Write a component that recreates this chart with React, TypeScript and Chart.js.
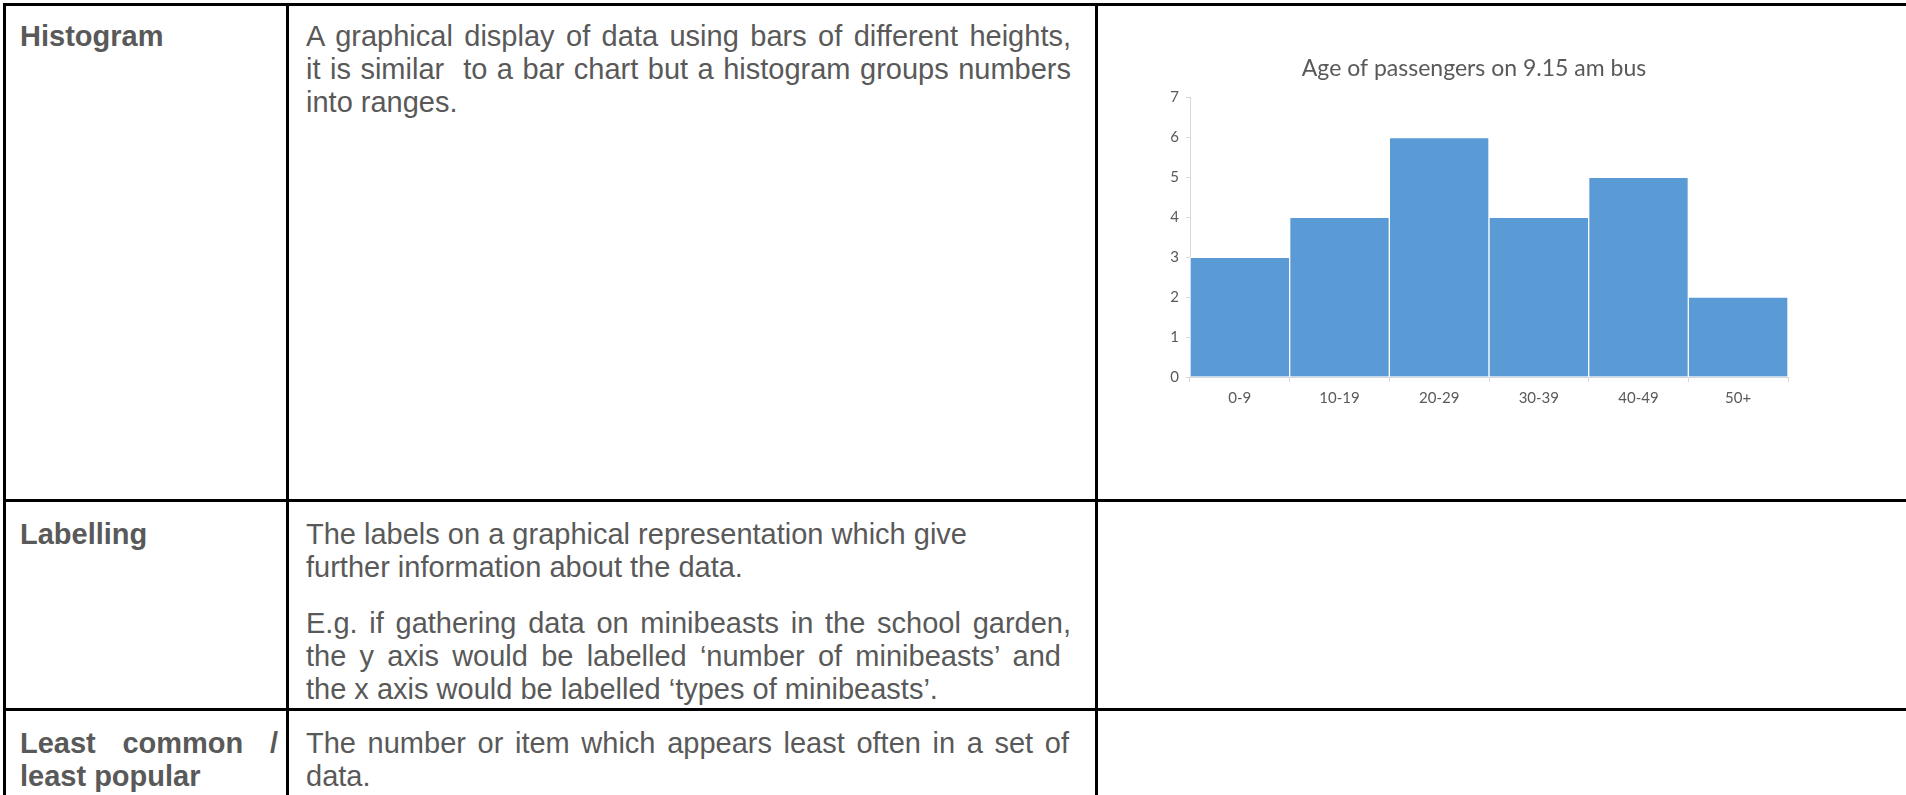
import React, { useEffect, useRef } from 'react';
import { Chart, registerables } from 'chart.js';

Chart.register(...registerables);

// ---- chart data ----
const CHART_TITLE = 'Age of passengers on 9.15 am bus';
const AGE_GROUPS = ['0-9', '10-19', '20-29', '30-39', '40-49', '50+'];
const PASSENGERS = [3, 4, 6, 4, 5, 2];
const Y_MIN = 0;
const Y_MAX = 7;
const Y_STEP = 1;

// ---- table text ----
const ROW1_TERM = ['Histogram'];
const ROW1_DEF = [
  'A graphical display of data using bars of different heights,',
  'it is similar\u00a0 to a bar chart but a histogram groups numbers',
  'into ranges.',
];
const ROW2_TERM = ['Labelling'];
const ROW2_DEF_A = [
  'The labels on a graphical representation which give',
  'further information about the data.',
];
const ROW2_DEF_B = [
  'E.g. if gathering data on minibeasts in the school garden,',
  'the y axis would be labelled \u2018number of minibeasts\u2019 and',
  'the x axis would be labelled \u2018types of minibeasts\u2019.',
];
const ROW3_TERM = ['Least common /', 'least popular'];
const ROW3_DEF = [
  'The number or item which appears least often in a set of',
  'data.',
];

const TEXT_FONT = '"Liberation Sans", Arial, sans-serif';
const FS = 29;
const TEXT_COLOR = '#595959';
const CHART_FONT = 'Lato, "Open Sans", sans-serif';

type LineProps = { x: number; baseline: number; text: string; bold?: boolean; justify?: number };

function Line({ x, baseline, text, bold, justify }: LineProps) {
  const style: React.CSSProperties = {
    position: 'absolute',
    left: x,
    top: baseline - 0.8465 * FS,
    fontFamily: TEXT_FONT,
    fontSize: FS,
    lineHeight: `${FS}px`,
    color: TEXT_COLOR,
    fontWeight: bold ? 700 : 400,
    whiteSpace: justify ? 'nowrap' : 'pre',
  };
  if (justify) {
    style.width = justify;
    style.textAlign = 'justify';
    (style as any).textAlignLast = 'justify';
  }
  return <div style={style}>{text}</div>;
}

function Rule({ x, y, w, h }: { x: number; y: number; w: number; h: number }) {
  return <div style={{ position: 'absolute', left: x, top: y, width: w, height: h, background: '#000' }} />;
}

function HistogramChart() {
  const ref = useRef<HTMLCanvasElement | null>(null);
  useEffect(() => {
    if (!ref.current) return;
    const chart = new Chart(ref.current, {
      type: 'bar',
      data: {
        labels: AGE_GROUPS,
        datasets: [
          {
            label: 'Passengers',
            data: PASSENGERS,
            backgroundColor: '#5B9BD5',
            borderColor: '#FFFFFF',
            borderWidth: 1,
            barPercentage: 1,
            categoryPercentage: 1,
          },
        ],
      },
      options: {
        animation: false,
        responsive: true,
        maintainAspectRatio: false,
        layout: { padding: { left: 60, right: 112, top: 0, bottom: 40 } },
        plugins: {
          legend: { display: false },
          tooltip: { enabled: false },
          title: {
            display: true,
            text: CHART_TITLE,
            color: TEXT_COLOR,
            font: { family: CHART_FONT, size: 23, weight: 'normal' },
            padding: { top: 45, bottom: 15 },
          },
        },
        scales: {
          x: {
            grid: {
              display: true,
              drawOnChartArea: false,
              drawTicks: true,
              tickLength: 5,
              color: '#D9D9D9',
              offset: true,
            },
            border: { display: true, color: '#D9D9D9', width: 1 },
            ticks: {
              color: TEXT_COLOR,
              font: { family: CHART_FONT, size: 15 },
              padding: 7,
              maxRotation: 0,
            },
            afterFit: (s: any) => {
              s.height = 60;
            },
          },
          y: {
            min: Y_MIN,
            max: Y_MAX,
            ticks: {
              stepSize: Y_STEP,
              color: TEXT_COLOR,
              font: { family: CHART_FONT, size: 15 },
              padding: 7,
            },
            grid: {
              display: true,
              drawOnChartArea: false,
              drawTicks: true,
              tickLength: 4,
              color: '#D9D9D9',
            },
            border: { display: true, color: '#D9D9D9', width: 1 },
            afterFit: (s: any) => {
              s.width = 30;
            },
          },
        },
      },
    });
    return () => chart.destroy();
  }, []);
  return (
    <div style={{ position: 'absolute', left: 1100, top: 10, width: 800, height: 467 }}>
      <canvas ref={ref} />
    </div>
  );
}

export default function App() {
  const c1x = 20;
  const c2x = 306;
  const lh = 33;
  const fullW = 765;
  return (
    <div
      style={{
        position: 'fixed',
        left: 0,
        top: 0,
        width: 1906,
        height: 795,
        background: '#fff',
        overflow: 'hidden',
      }}
    >
      {/* table rules */}
      <Rule x={3} y={3} w={1903} h={3} />
      <Rule x={3} y={3} w={3} h={792} />
      <Rule x={286} y={3} w={3} h={792} />
      <Rule x={1095} y={3} w={3} h={792} />
      <Rule x={3} y={499} w={1903} h={3} />
      <Rule x={3} y={708} w={1903} h={3} />

      {/* row 1 */}
      {ROW1_TERM.map((t, i) => (
        <Line key={'r1t' + i} x={c1x} baseline={47 + i * lh} text={t} bold />
      ))}
      {ROW1_DEF.map((t, i) => (
        <Line
          key={'r1d' + i}
          x={c2x}
          baseline={47 + i * lh}
          text={t}
          justify={i < 2 ? fullW : undefined}
        />
      ))}

      {/* row 2 */}
      {ROW2_TERM.map((t, i) => (
        <Line key={'r2t' + i} x={c1x} baseline={545 + i * lh} text={t} bold />
      ))}
      {ROW2_DEF_A.map((t, i) => (
        <Line key={'r2a' + i} x={c2x} baseline={545 + i * lh} text={t} />
      ))}
      {ROW2_DEF_B.map((t, i) => (
        <Line
          key={'r2b' + i}
          x={c2x}
          baseline={634 + i * lh}
          text={t}
          justify={i === 0 ? fullW : i === 1 ? 755 : undefined}
        />
      ))}

      {/* row 3 */}
      {ROW3_TERM.map((t, i) => (
        <Line
          key={'r3t' + i}
          x={c1x}
          baseline={754 + i * lh}
          text={t}
          bold
          justify={i === 0 ? 258 : undefined}
        />
      ))}
      {ROW3_DEF.map((t, i) => (
        <Line
          key={'r3d' + i}
          x={c2x}
          baseline={754 + i * lh}
          text={t}
          justify={i === 0 ? 763 : undefined}
        />
      ))}

      <HistogramChart />
    </div>
  );
}
